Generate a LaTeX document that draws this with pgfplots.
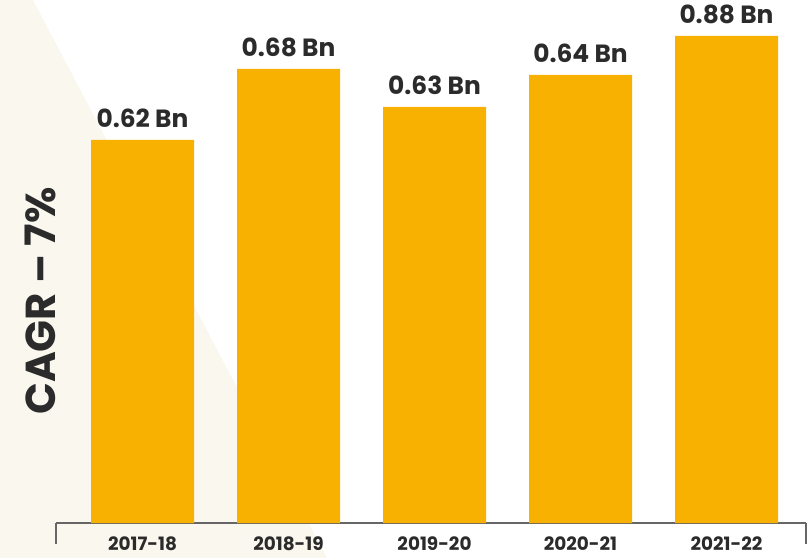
\documentclass[border=0pt]{standalone}
\usepackage{pgfplots}
\pgfplotsset{compat=1.18}
\usepackage{fontspec}
\setmainfont{Poppins}
\definecolor{barcol}{HTML}{F8B100}
\definecolor{txt}{HTML}{2B2B2B}
\definecolor{cream}{HTML}{FAF8EE}
\definecolor{axgray}{HTML}{666666}
\begin{document}
\begin{tikzpicture}
% page = 810 x 558 px, 1px = 1bp
\path[use as bounding box] (0,0) rectangle (810bp,558bp);
\fill[cream] (0,558bp) -- (33bp,558bp) -- (327bp,0) -- (0,0) -- cycle;
\node[rotate=90, text=txt, font=\fontsize{42}{42}\selectfont\bfseries]
  at (40bp,257bp) {CAGR – 7\%};
\begin{axis}[
  scale only axis,
  anchor=south west,
  at={(56bp,35bp)},
  width=750bp,
  height=500bp,
  xmin=-0.5925, xmax=4.5445,
  ymin=0, ymax=500,
  axis x line*=bottom,
  axis y line=none,
  x axis line style={axgray, line width=1.8bp},
  major tick length=0pt,
  xtick=data,
  xticklabels={2017-18,2018-19,2019-20,2020-21,2021-22},
  xticklabel style={text=txt, font=\fontsize{18.5}{18.5}\selectfont\bfseries,
    anchor=north, inner sep=0pt, yshift=-14bp},
  ymajorticks=false,
  point meta=explicit symbolic,
  nodes near coords={\pgfplotspointmeta~Bn},
  every node near coord/.append style={text=txt, anchor=south, inner sep=0pt,
    yshift=12bp, font=\fontsize{25}{25}\selectfont\bfseries},
  clip=false,
]
% bar heights as drawn (px above the baseline), labels as printed
\addplot[ybar, bar width=0.7055, fill=barcol, draw=none] coordinates {
  (0,383) [0.62]
  (1,454) [0.68]
  (2,416) [0.63]
  (3,448) [0.64]
  (4,487) [0.88]
};
\draw[axgray, line width=1.8bp] (rel axis cs:0,0) -- ([yshift=-21bp]rel axis cs:0,0);
\draw[axgray, line width=1.8bp] (rel axis cs:1,0) -- ([yshift=-21bp]rel axis cs:1,0);
\end{axis}
\end{tikzpicture}
\end{document}
